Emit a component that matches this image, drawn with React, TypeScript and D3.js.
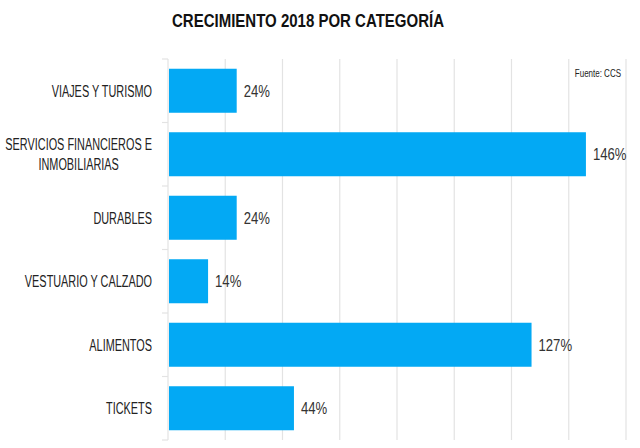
import React, { useEffect, useRef } from 'react';
import * as d3 from 'd3';

const width = 640;
const height = 448;

const categories = [
  'VIAJES Y TURISMO',
  'SERVICIOS FINANCIEROS E|INMOBILIARIAS',
  'DURABLES',
  'VESTUARIO Y CALZADO',
  'ALIMENTOS',
  'TICKETS',
];
const growth = [24, 146, 24, 14, 127, 44];
const gridTicks = [0, 20, 40, 60, 80, 100, 120, 140, 160];

const title = 'CRECIMIENTO 2018 POR CATEGORÍA';
const source = 'Fuente: CCS';

const barColor = '#03a9f4';
const font = '"Liberation Sans", Arial, sans-serif';

const x = d3.scaleLinear().domain([0, 160]).range([168, 626]);
const y = d3
  .scaleBand<string>()
  .domain(categories)
  .range([59, 440])
  .paddingInner(0.307)
  .paddingOuter(0.1535);

// text squeezed horizontally to get a condensed look
function narrowText(parent, tx, ty, sx, anchor, str, size, weight = 'normal', fill = '#222') {
  const g = parent.append('g').attr('transform', `translate(${tx},${ty}) scale(${sx},1)`);
  return g
    .append('text')
    .attr('text-anchor', anchor)
    .attr('font-family', font)
    .attr('font-size', size)
    .attr('font-weight', weight)
    .attr('fill', fill)
    .text(str);
}

const App = () => {
  const ref = useRef<SVGSVGElement>(null);

  useEffect(() => {
    document.body.style.margin = '0';
    const svg = d3.select(ref.current);
    svg.selectAll('*').remove();

    svg
      .append('rect')
      .attr('width', width)
      .attr('height', height)
      .attr('fill', '#fff');

    // vertical gridlines
    svg
      .append('g')
      .selectAll('line')
      .data(gridTicks)
      .join('line')
      .attr('x1', d => x(d))
      .attr('x2', d => x(d))
      .attr('y1', y.range()[0])
      .attr('y2', y.range()[1])
      .attr('stroke', '#e3e3e3')
      .attr('stroke-width', 1.2);

    // small ticks between categories on the left
    const step = y.step();
    const bounds = d3.range(categories.length + 1).map(i => y.range()[0] + i * step);
    svg
      .append('g')
      .selectAll('line')
      .data(bounds)
      .join('line')
      .attr('x1', x(0) - 6)
      .attr('x2', x(0))
      .attr('y1', d => d)
      .attr('y2', d => d)
      .attr('stroke', '#e3e3e3')
      .attr('stroke-width', 1.2);

    const rows = categories.map((c, i) => ({ c, v: growth[i] }));

    svg
      .append('g')
      .selectAll('rect')
      .data(rows)
      .join('rect')
      .attr('x', x(0) + 1)
      .attr('y', d => y(d.c)!)
      .attr('width', d => x(d.v) - x(0) - 1)
      .attr('height', y.bandwidth())
      .attr('fill', barColor);

    // value labels
    rows.forEach(d => {
      narrowText(svg, x(d.v) + 7, y(d.c)! + y.bandwidth() / 2 + 6, 0.82, 'start', `${d.v}%`, 16, 'normal', '#333');
    });

    // category labels, centred lines, right edge at the axis gutter
    const sx = 0.68;
    rows.forEach(d => {
      const lines = d.c.split('|');
      const cy = y(d.c)! + y.bandwidth() / 2;
      const g = svg.append('g');
      const t = g
        .append('text')
        .attr('font-family', font)
        .attr('font-size', 16)
        .attr('fill', '#222')
        .attr('text-anchor', 'middle');
      lines.forEach((line, i) => {
        t.append('tspan')
          .attr('x', 0)
          .attr('y', 6 + (i - (lines.length - 1) / 2) * 20)
          .text(line);
      });
      const w = (t.node() as SVGTextElement).getBBox().width * sx;
      g.attr('transform', `translate(${152 - w / 2},${cy}) scale(${sx},1)`);
    });

    narrowText(svg, 308, 27, 0.79, 'middle', title, 19, 'bold', '#111');
    narrowText(svg, 621, 77, 0.8, 'end', source, 10, 'normal', '#222');
  }, []);

  return <svg ref={ref} width={width} height={height} style={{ display: 'block' }} />;
};

export default App;
